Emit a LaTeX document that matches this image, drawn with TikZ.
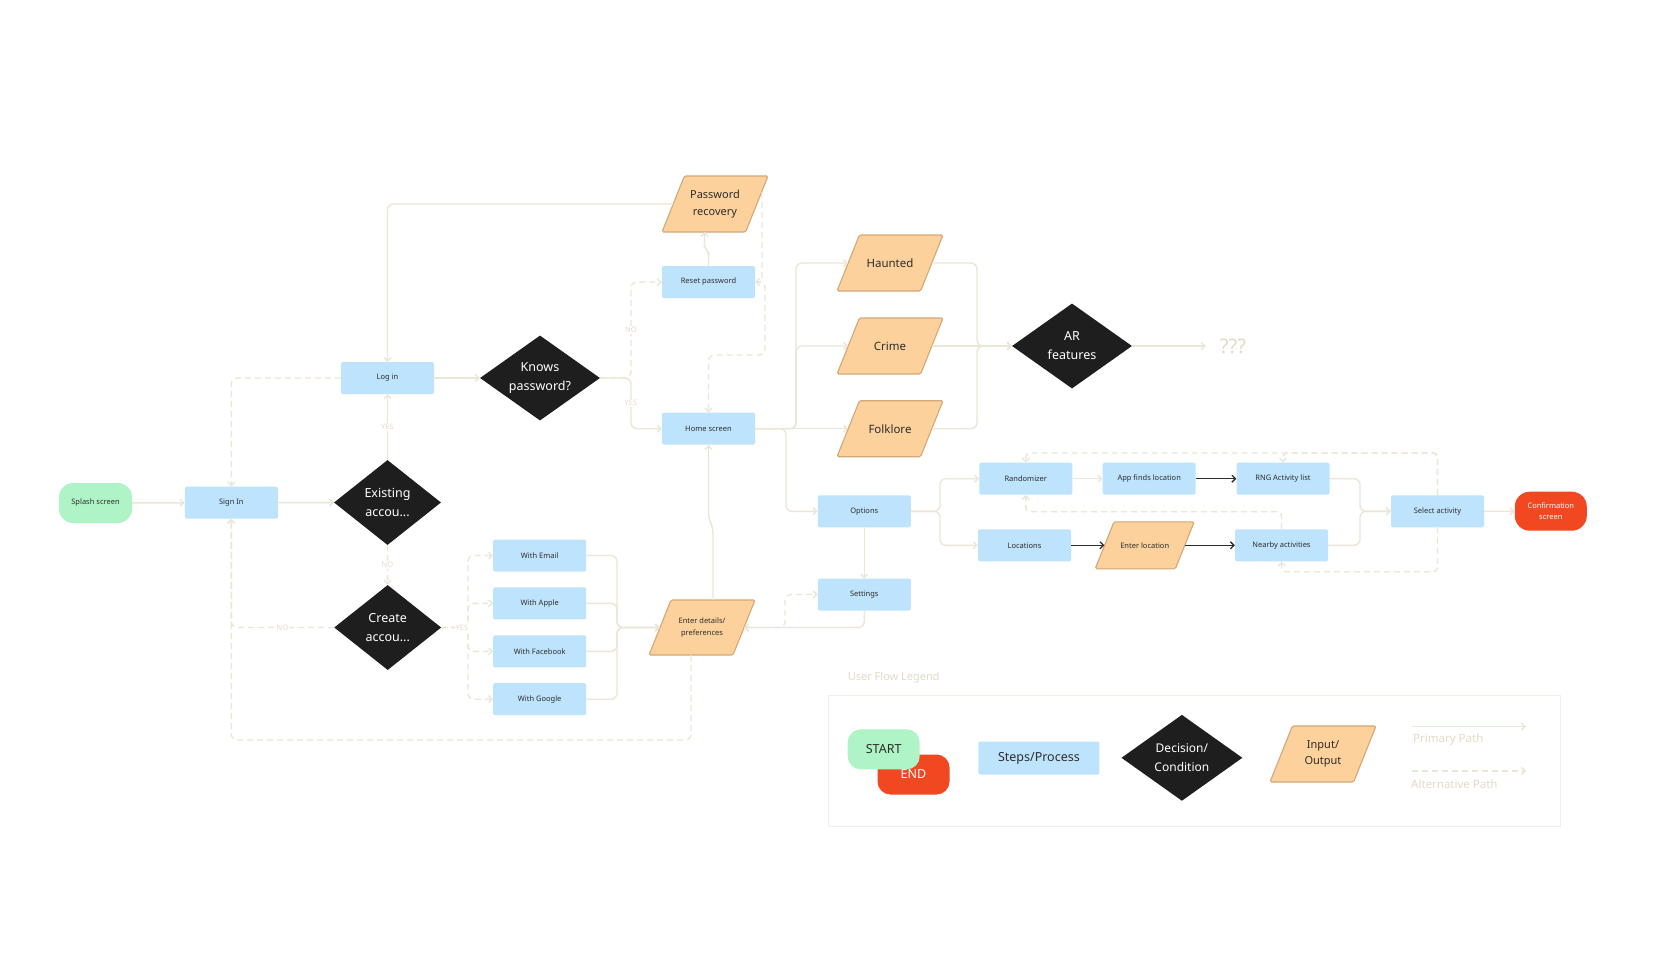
\documentclass[tikz,border=0pt]{standalone}
\usepackage{fontspec}
\setmainfont{Noto Sans}
\usetikzlibrary{arrows.meta,shapes.geometric,calc}
\definecolor{procblue}{RGB}{190,227,253}
\definecolor{iofill}{RGB}{252,209,156}
\definecolor{iodraw}{RGB}{212,168,118}
\definecolor{decc}{RGB}{30,30,30}
\definecolor{startc}{RGB}{175,244,198}
\definecolor{endc}{RGB}{242,72,34}
\definecolor{linec}{RGB}{236,230,214}
\definecolor{labc}{RGB}{226,219,200}
\definecolor{darkc}{RGB}{45,45,45}
\definecolor{txt}{RGB}{45,45,45}
\definecolor{legbord}{RGB}{242,239,232}

\newcommand{\iobox}[7]{%
  \pgfmathsetmacro{\myoff}{0.4*#5}%
  \filldraw[fill=iofill, draw=iodraw, line width=1.1pt, rounded corners=1.5pt]
    (#2-#4/2,#3+#5/2) -- (#2+#4/2-\myoff,#3+#5/2) -- (#2+#4/2,#3-#5/2) -- (#2-#4/2+\myoff,#3-#5/2) -- cycle;
  \node[iotext, #6, minimum width={#4-\myoff}, minimum height={#5}] (#1) at (#2,#3) {#7};
}

\begin{document}
\begin{tikzpicture}[x=1pt,y=-1pt,
  fsmall/.style={font=\fontsize{7.5}{11.5}\selectfont},
  fmid/.style={font=\fontsize{11}{16.5}\selectfont},
  fpara/.style={font=\fontsize{11.5}{16}\selectfont},
  fdia/.style={font=\fontsize{12.5}{19}\selectfont},
  fleg/.style={font=\fontsize{12.5}{19}\selectfont},
  flab/.style={font=\fontsize{7.5}{9}\selectfont, text=labc, fill=white, inner sep=1pt},
  iotext/.style={rectangle, inner sep=0pt, align=center, text=txt},
  proc/.style={rectangle, fill=procblue, rounded corners=1.5pt, minimum width=93pt, minimum height=32pt, inner sep=1pt, text=txt, fsmall},
  term/.style={rectangle, inner sep=1pt, align=center, text=txt, fsmall},
  dec/.style={diamond, fill=decc, text=white, inner sep=0pt, aspect=1.4, align=center, fdia},
  conn/.style={draw=linec, line width=1.4pt, rounded corners=6pt, -{Straight Barb[length=3.5pt,width=7pt]}},
  altc/.style={conn, dash pattern=on 6pt off 4pt},
  dark/.style={draw=darkc, line width=1.3pt, -{Straight Barb[length=3.5pt,width=7pt]}}
]
\fill[white] (0,0) rectangle (1657,970);
\useasboundingbox (0,0) rectangle (1657,970);

% ---------- nodes ----------
\node[term, fill=startc, minimum width=73pt, minimum height=40pt, rounded corners=14pt] (splash) at (95.5,503) {Splash screen};
\node[proc] (signin) at (231.3,502.7) {Sign In};
\node[dec, minimum width=107pt, minimum height=85pt] (existing) at (387.5,502.5) {Existing\\accou...};
\node[proc] (login) at (387.5,378) {Log in};
\node[dec, minimum width=120pt, minimum height=85pt] (knows) at (540,378) {Knows\\password?};
\iobox{pr}{715}{204}{106}{56}{fmid}{Password\\recovery}
\node[proc] (reset) at (708.5,282) {Reset password};
\node[proc] (home) at (708.5,428.7) {Home screen};
\iobox{haunted}{890}{263}{106}{56}{fpara}{Haunted}
\iobox{crime}{890}{346}{106}{56}{fpara}{Crime}
\iobox{folk}{890}{428.7}{106}{56}{fpara}{Folklore}
\node[dec, minimum width=120pt, minimum height=85pt] (ar) at (1072,346) {AR\\features};
\node[inner sep=0pt, text=labc, font=\fontsize{20}{24}\selectfont] (qq) at (1233,346) {???};
\node[proc] (options) at (864.3,511.3) {Options};
\node[proc] (settings) at (864.3,594.5) {Settings};
\node[dec, minimum width=107pt, minimum height=85pt] (create) at (387.7,627.5) {Create\\accou...};
\node[proc] (wemail) at (539.7,555.5) {With Email};
\node[proc] (wapple) at (539.7,603.3) {With Apple};
\node[proc] (wfb) at (539.7,651.3) {With Facebook};
\node[proc] (wgoogle) at (539.7,699.2) {With Google};
\iobox{ed}{702}{627.5}{106}{55}{fsmall}{Enter details/\\preferences}
\node[proc] (rand) at (1025.8,478.7) {Randomizer};
\node[proc] (appf) at (1149.2,478.7) {App finds location};
\node[proc] (loc) at (1024.5,545.3) {Locations};
\iobox{eloc}{1144.7}{545.3}{99}{47}{fsmall}{Enter location}
\node[proc] (rng) at (1283,478.7) {RNG Activity list};
\node[proc] (nearby) at (1281.5,545.3) {Nearby activities};
\node[proc] (select) at (1437.5,511.3) {Select activity};
\node[term, fill=endc, text=white, minimum width=72pt, minimum height=39pt, rounded corners=15pt] (confirm) at (1550.8,511.2) {Confirmation\\screen};

% ---------- alternative (dashed) connectors ----------
\draw[altc] (login.west) -| (signin.north);
\draw[altc] (existing.south) -- (create.north);
\draw[altc] (create.west) -| (signin.south);
\draw[altc] ([xshift=-11pt]ed.south) -- (691,740) -| (signin.south);
\draw[altc] (create.east) -- (468,627.5) |- (wemail.west);
\draw[altc] (create.east) -- (468,627.5) |- (wapple.west);
\draw[altc] (create.east) -- (468,627.5) |- (wfb.west);
\draw[altc] (create.east) -- (468,627.5) |- (wgoogle.west);
\draw[altc] (knows.east) -- (631,378) |- (reset.west);
\draw[altc, rounded corners=3pt] ($(pr.east)+(5,-12)$) |- (reset.east);
\draw[altc] (reset.east) -- (765,282) -- (765,355) -- (708.5,355) -- (home.north);
\draw[altc] (ed.east) -- (785,627.5) |- (settings.west);
\draw[altc, rounded corners=4pt] (select.north) -- (1437.5,453) -| (rand.north);
\draw[altc, rounded corners=4pt] (select.north) -- (1437.5,453) -| (rng.north);
\draw[altc, rounded corners=4pt] (select.south) -- (1437.5,571.7) -| (nearby.south);
\draw[altc, rounded corners=4pt] (nearby.north) -- (1281.5,511.7) -| (rand.south);

% ---------- primary connectors ----------
\draw[conn] (splash) -- (signin);
\draw[conn] (signin) -- (existing);
\draw[conn] (existing.north) -- (login.south);
\draw[conn] (login) -- (knows);
\draw[conn] (knows.east) -- (631,378) |- (home.west);
\draw[conn] (pr.west) -| (login.north);
\draw[conn, rounded corners=3pt] (reset.north) -- ++(0,-14) -- ++(-4,-4) -- ++(0,-16);
\draw[conn] (home.east) -- (796,428.7) |- (haunted.west);
\draw[conn] (home.east) -- (796,428.7) |- (crime.west);
\draw[conn] (home.east) -- (folk.west);
\draw[conn] (home.east) -- (786,428.7) |- (options.west);
\draw[conn] (haunted.east) -- (977,263) -- (977,346) -- (ar.west);
\draw[conn] (folk.east) -- (977,428.7) -- (977,346) -- (ar.west);
\draw[conn] (crime.east) -- (ar.west);
\draw[conn] (ar.east) -- ([xshift=-14pt]qq.west);
\draw[conn] (options.south) -- (settings.north);
\draw[conn] (settings.south) |- (ed.east);
\draw[conn] ([xshift=11pt]ed.north) -- (713,527) -- (708.5,519) -- (home.south);
\draw[conn] (wemail.east) -- (617,555.5) |- (ed.west);
\draw[conn] (wapple.east) -- (617,603.3) |- (ed.west);
\draw[conn] (wfb.east) -- (617,651.3) |- (ed.west);
\draw[conn] (wgoogle.east) -- (617,699.2) |- (ed.west);
\draw[conn] (options.east) -- (940,511.3) |- (rand.west);
\draw[conn] (options.east) -- (940,511.3) |- (loc.west);
\draw[conn] (rand) -- (appf);
\draw[dark] (appf) -- (rng);
\draw[dark] (loc) -- (eloc);
\draw[dark] (eloc) -- (nearby);
\draw[conn] (rng.east) -- (1360,478.7) |- (select.west);
\draw[conn] (nearby.east) -- (1360,545.3) |- (select.west);
\draw[conn] (select) -- (confirm);

% ---------- labels ----------
\node[flab] (lyes1) at (387.5,427) {YES};
\node[flab] (lno1) at (387.5,565) {NO};
\node[flab] (lno2) at (282.5,627.5) {NO};
\node[flab] (lyes2) at (462,627.5) {YES};
\node[flab] (lno3) at (631,330) {NO};
\node[flab] (lyes3) at (631,403) {YES};

% ---------- legend ----------
\node[anchor=west, inner sep=0pt, text=labc, font=\bfseries\fontsize{11}{13}\selectfont] (legtitle) at (847.6,677.3) {User Flow Legend};
\draw[legbord, line width=0.9pt] (828.7,695) rectangle (1560,826);
\node[term, fill=endc, text=white, minimum width=72pt, minimum height=40pt, rounded corners=13pt, fleg] (lend) at (913.5,774.5) {END};
\node[term, fill=startc, minimum width=72pt, minimum height=40pt, rounded corners=13pt, fleg] (lstart) at (883.7,749.3) {START};
\node[proc, minimum width=121pt, minimum height=33pt, fleg] (lsteps) at (1038.9,758) {Steps/Process};
\node[dec, minimum width=121pt, minimum height=86pt, font=\fontsize{12}{19}\selectfont] (ldec) at (1181.9,757.8) {Decision/\\Condition};
\iobox{lio}{1323}{754}{106}{56}{fmid}{Input/\\Output}
\coordinate (pa1) at (1412,726.3);
\coordinate (pa2) at (1526,726.3);
\draw[conn] (pa1) -- (pa2);
\node[anchor=west, inner sep=0pt, text=labc, font=\fontsize{11.5}{14}\selectfont] (lprim) at (1413,739.3) {Primary Path};
\coordinate (aa1) at (1412,771);
\coordinate (aa2) at (1526,771);
\draw[altc] (aa1) -- (aa2);
\node[anchor=west, inner sep=0pt, text=labc, font=\fontsize{11.5}{14}\selectfont] (lalt) at (1411,784.3) {Alternative Path};
\end{tikzpicture}
\end{document}
